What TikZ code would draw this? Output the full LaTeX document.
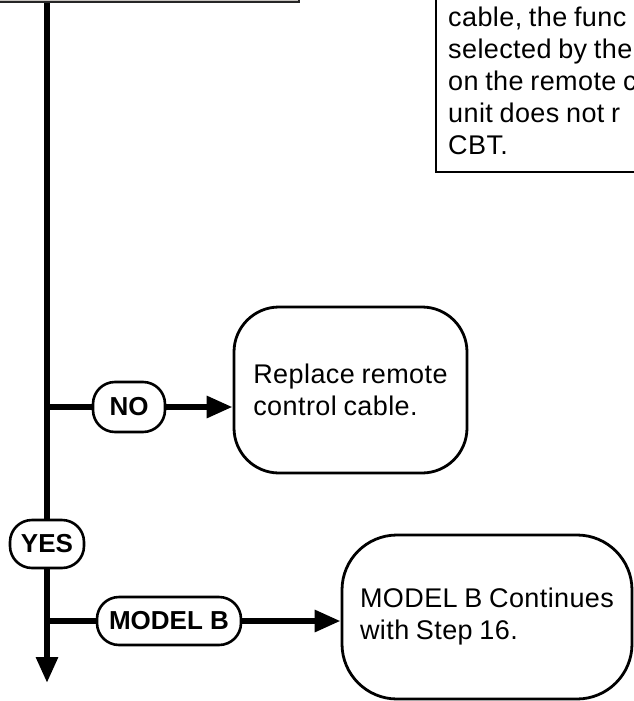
\documentclass[tikz,border=0pt]{standalone}
\usepackage{fontspec}
\setmainfont{Liberation Sans}[LetterSpace=1.5,WordSpace=0.85]
\newfontfamily\pillfont{Liberation Sans}
\usetikzlibrary{arrows.meta}
\definecolor{topgray}{RGB}{200,196,192}
\begin{document}
\begin{tikzpicture}[x=1pt,y=-1pt,
  flow/.style={line width=6pt},
  flowarrow/.style={line width=6pt,-{Triangle[length=26pt,width=21pt]}},
  pill/.style={draw,line width=2.6pt,fill=white,rounded corners=22pt,inner sep=0pt,
    font=\pillfont\bfseries\fontsize{26}{30}\selectfont},
  stepbox/.style={draw,line width=2.8pt,fill=white,inner sep=0pt,align=left,
    font=\fontsize{27}{32}\selectfont},
  notebox/.style={draw,line width=2.4pt,inner sep=0pt},
]
\useasboundingbox (0,0) rectangle (633,701);

% top-left box (cut off)
\node[draw=black!85,line width=2pt,fill=topgray,minimum width=320pt,minimum height=20pt,
      inner sep=0pt,anchor=south east] (topbox) at (300,3.5) {};

% top-right note box (cut off)
\node[notebox,minimum width=260pt,minimum height=200pt,anchor=south west] (notebox) at (435,173) {};
\node[inner sep=0pt,anchor=south west,align=left,font=\fontsize{27}{32}\selectfont] (notetext) at (448,155)
  {cable, the func\\selected by the\\on the remote c\\unit does not r\\CBT.};

% step boxes
\node[stepbox,minimum width=233pt,minimum height=166pt,rounded corners=45pt] (replace) at (350.5,390)
  {Replace remote\\control cable.};
\node[stepbox,minimum width=290pt,minimum height=164pt,rounded corners=55pt] (modelbbox) at (487,617)
  {MODEL B Continues\\with Step 16.};

% pills
\node[pill,minimum width=72pt,minimum height=50pt] (no) at (129,407) {NO};
\node[pill,minimum width=74pt,minimum height=48pt] (yes) at (47,544) {YES};
\node[pill,minimum width=144pt,minimum height=48pt] (modelb) at (169,621) {MODEL B};

% coordinates on main line
\coordinate (nojunction) at (47,407);
\coordinate (mbjunction) at (47,621);
\coordinate (bottom) at (47,683);

% main vertical flow
\draw[flow] (topbox.south -| yes.north) -- (yes.north);
\draw[flowarrow] (yes.south) -- (bottom);

% branches
\draw[flow] (nojunction) -- (no.west);
\draw[flowarrow] (no.east) -- (no.east -| replace.west);
\draw[flow] (mbjunction) -- (modelb.west);
\draw[flowarrow] (modelb.east) -- (modelb.east -| modelbbox.west);
\end{tikzpicture}
\end{document}
